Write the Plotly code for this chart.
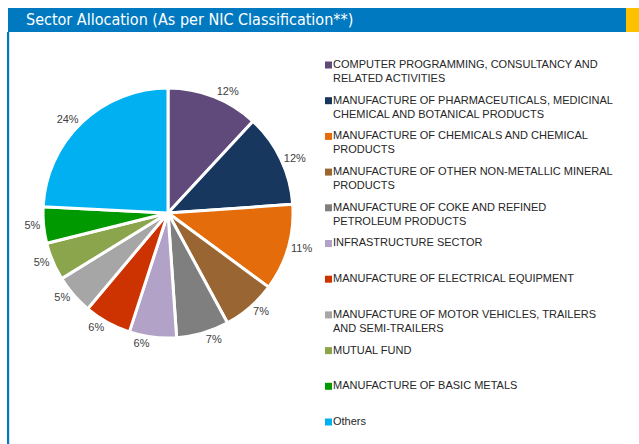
import plotly.graph_objects as go

W, H = 639, 444

categories = [
    "COMPUTER PROGRAMMING, CONSULTANCY AND RELATED ACTIVITIES",
    "MANUFACTURE OF PHARMACEUTICALS, MEDICINAL CHEMICAL AND BOTANICAL PRODUCTS",
    "MANUFACTURE OF CHEMICALS AND CHEMICAL PRODUCTS",
    "MANUFACTURE OF OTHER NON-METALLIC MINERAL PRODUCTS",
    "MANUFACTURE OF COKE AND REFINED PETROLEUM PRODUCTS",
    "INFRASTRUCTURE SECTOR",
    "MANUFACTURE OF ELECTRICAL EQUIPMENT",
    "MANUFACTURE OF MOTOR VEHICLES, TRAILERS AND SEMI-TRAILERS",
    "MUTUAL FUND",
    "MANUFACTURE OF BASIC METALS",
    "Others",
]
legend_labels = [
    "COMPUTER PROGRAMMING, CONSULTANCY AND<br>RELATED ACTIVITIES",
    "MANUFACTURE OF PHARMACEUTICALS, MEDICINAL<br>CHEMICAL AND BOTANICAL PRODUCTS",
    "MANUFACTURE OF CHEMICALS AND CHEMICAL<br>PRODUCTS",
    "MANUFACTURE OF OTHER NON-METALLIC MINERAL<br>PRODUCTS",
    "MANUFACTURE OF COKE AND REFINED<br>PETROLEUM PRODUCTS",
    "INFRASTRUCTURE SECTOR",
    "MANUFACTURE OF ELECTRICAL EQUIPMENT",
    "MANUFACTURE OF MOTOR VEHICLES, TRAILERS<br>AND SEMI-TRAILERS",
    "MUTUAL FUND",
    "MANUFACTURE OF BASIC METALS",
    "Others",
]
values = [11.9, 12.0, 11.2, 7.0, 6.8, 6.1, 6.1, 5.1, 4.9, 4.7, 24.2]
colors = ["#604A7B", "#17375E", "#E46C0A", "#996633", "#7F7F7F", "#B3A2C7",
          "#CC3300", "#A6A6A6", "#8BA54D", "#009900", "#00B0F0"]


def px(x):
    return x / W


def py(y):
    return 1 - y / H


fig = go.Figure()
fig.add_trace(go.Pie(
    labels=categories,
    values=values,
    sort=False,
    direction="clockwise",
    rotation=0,
    marker=dict(colors=colors, line=dict(color="white", width=3)),
    texttemplate="%{percent:.0%}",
    textposition="outside",
    textfont=dict(family="Arial, Liberation Sans", size=11, color="#404040"),
    showlegend=False,
    hoverinfo="label+percent",
    domain=dict(x=[px(43), px(293)], y=[py(338), py(88)]),
))

shapes = [
    dict(type="rect", xref="paper", yref="paper", x0=px(8), x1=px(626), y0=py(32), y1=py(8),
         fillcolor="#0079C1", line=dict(width=0), layer="below"),
    dict(type="rect", xref="paper", yref="paper", x0=px(626), x1=px(639), y0=py(32), y1=py(8),
         fillcolor="#FFC000", line=dict(width=0), layer="below"),
    dict(type="rect", xref="paper", yref="paper", x0=px(7), x1=px(9.2), y0=py(444), y1=py(32),
         fillcolor="#0079C1", line=dict(width=0), layer="below"),
]
annotations = [
    dict(text="Sector Allocation (As per NIC Classification**)", xref="paper", yref="paper",
         x=px(24), y=py(19.5), xanchor="left", yanchor="middle", showarrow=False,
         font=dict(family="DejaVu Sans Condensed", size=16, color="white")),
]

first_center = 64.5
step = 35.7
for i, (lab, col) in enumerate(zip(legend_labels, colors)):
    c = first_center + i * step
    shapes.append(dict(type="rect", xref="paper", yref="paper",
                       x0=px(325), x1=px(332), y0=py(c + 4), y1=py(c - 3),
                       fillcolor=col, line=dict(width=0)))
    annotations.append(dict(text=lab, xref="paper", yref="paper", x=px(332), y=py(c - 7.5),
                            xanchor="left", yanchor="top", align="left", showarrow=False,
                            borderpad=0,
                            font=dict(family="Arial, Liberation Sans", size=11, color="#262626")))

fig.update_layout(
    width=W, height=H,
    autosize=False,
    margin=dict(l=0, r=0, t=0, b=0, pad=0, autoexpand=False),
    paper_bgcolor="white",
    plot_bgcolor="white",
    shapes=shapes,
    annotations=annotations,
)

fig.write_html(
    "out.html",
    config={"responsive": False, "displayModeBar": False},
    post_script="document.body.style.margin='0';document.body.style.overflow='hidden';",
)
